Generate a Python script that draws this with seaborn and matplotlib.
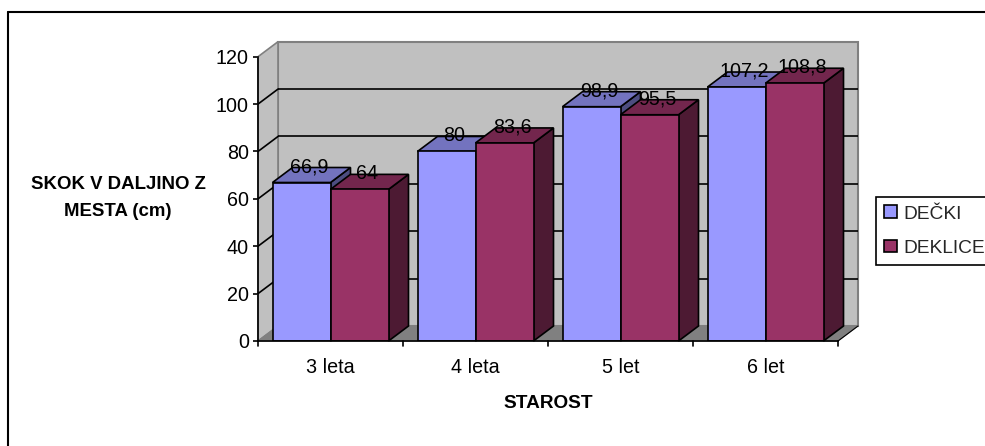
import matplotlib
matplotlib.use("Agg")
import matplotlib.pyplot as plt
from matplotlib.lines import Line2D
from matplotlib.patches import Polygon
import pandas as pd
import seaborn as sns

# Standing long jump results by age group
age_groups = ["3 leta", "4 leta", "5 let", "6 let"]
boys = [66.9, 80, 98.9, 107.2]
girls = [64, 83.6, 95.5, 108.8]
series_names = ["DEČKI", "DEKLICE"]
y_ticks = [0, 20, 40, 60, 80, 100, 120]

W, H = 985, 446
AX_L, AX_R, AX_B, AX_T = 258, 838, 341, 56.7
DEPTH_PX_X, DEPTH_PX_Y = 20, 15
TEXT_SIZE = 14.2
LEGEND_SIZE = 13.8
LINE = 1.2

FACE = {"blue": "#9999FF", "red": "#993366"}
TOP = {"blue": "#7373BF", "red": "#73264D"}
SIDE = {"blue": "#4D4D80", "red": "#4D1A33"}
WALL = "#C0C0C0"
FLOOR = "#808080"

sns.set_theme(style="white")
plt.rcParams["font.family"] = ["Liberation Sans", "DejaVu Sans"]

df = pd.DataFrame({
    "starost": age_groups * 2,
    "skok": boys + girls,
    "spol": [series_names[0]] * len(boys) + [series_names[1]] * len(girls),
})

fig = plt.figure(figsize=(W / 100, H / 100), dpi=100, facecolor="white")
ax = fig.add_axes([AX_L / W, 1 - AX_B / H, (AX_R - AX_L) / W, (AX_B - AX_T) / H])
ax.patch.set_visible(False)

sns.barplot(
    data=df, x="starost", y="skok", hue="spol", hue_order=series_names,
    palette=[FACE["blue"], FACE["red"]], saturation=1, width=0.8, gap=0,
    edgecolor="black", linewidth=LINE, err_kws={"linewidth": 0}, ax=ax,
)
ax.set_xlim(-0.5, 3.5)
ax.set_ylim(0, 120)

# Depth of the pseudo-3D box, in data units
dx = DEPTH_PX_X * 4 / (AX_R - AX_L)
dy = DEPTH_PX_Y * 120 / (AX_B - AX_T)
x0, x1 = ax.get_xlim()


def poly(points, face, edge, lw, z):
    ax.add_patch(Polygon(points, closed=True, facecolor=face, edgecolor=edge,
                         linewidth=lw, zorder=z, clip_on=False, joinstyle="miter"))


# Only real bars: seaborn also keeps empty placeholders for the legend
bar_patches = [p for p in ax.patches if p.get_height() > 0]
bar_patches.sort(key=lambda b: b.get_x())

# Box walls and floor
poly([(x0 + dx, dy), (x1 + dx, dy), (x1 + dx, 120 + dy), (x0 + dx, 120 + dy)], WALL, FLOOR, 1.5, 0.5)
poly([(x0, 0), (x0 + dx, dy), (x0 + dx, 120 + dy), (x0, 120)], WALL, FLOOR, 1.2, 0.6)
poly([(x0, 0), (x1, 0), (x1 + dx, dy), (x0 + dx, dy)], FLOOR, FLOOR, 0.8, 0.7)
ax.plot([x1, x1 + dx], [0, dy], color="black", lw=0.8, zorder=0.8, clip_on=False)

for tick in y_ticks[1:-1]:
    ax.plot([x0 + dx, x1 + dx], [tick + dy, tick + dy], color="black", lw=LINE,
            zorder=0.9, clip_on=False, solid_capstyle="butt")
    ax.plot([x0, x0 + dx], [tick, tick + dy], color="black", lw=LINE,
            zorder=0.9, clip_on=False)

# Extrude the bars, painting from left to right
for order, bar in enumerate(bar_patches):
    left, width, height = bar.get_x(), bar.get_width(), bar.get_height()
    key = "blue" if order % 2 == 0 else "red"
    z = 2 + order * 0.1
    right = left + width
    poly([(right, 0), (right + dx, dy), (right + dx, height + dy), (right, height)],
         SIDE[key], "black", LINE, z)
    poly([(left, height), (right, height), (right + dx, height + dy), (left + dx, height + dy)],
         TOP[key], "black", LINE, z + 0.01)
    bar.set_zorder(z + 0.02)
    bar.set_joinstyle("miter")
    ax.annotate(
        f"{height:g}".replace(".", ","), xy=(left + width / 2, height),
        xytext=(5.6, 11.5), textcoords="offset points", ha="center", va="center",
        fontsize=TEXT_SIZE, color="black", zorder=10, annotation_clip=False,
    )

# Axes
sns.despine(ax=ax, top=True, right=True)
for name in ("left", "bottom"):
    ax.spines[name].set_color("black")
    ax.spines[name].set_linewidth(LINE)
    ax.spines[name].set_zorder(5)
ax.set_yticks(y_ticks)
ax.tick_params(axis="y", which="major", left=True, length=3.5, width=LINE, color="black",
               labelsize=TEXT_SIZE, labelcolor="black", pad=3)
ax.tick_params(axis="x", which="major", bottom=False, labelsize=TEXT_SIZE, labelcolor="black", pad=6)
ax.set_xlabel("")
ax.set_ylabel("")

# Tick marks sit on the category boundaries
for boundary in (-0.5, 0.5, 1.5, 2.5, 3.5):
    ax.plot([boundary, boundary], [0, -2.0], color="black", lw=LINE, clip_on=False, zorder=5)

fig.text(118 / W, 1 - 198 / H, "SKOK V DALJINO Z\nMESTA (cm)", ha="center", va="center",
         fontsize=13.4, fontweight="bold", color="black", linespacing=1.8)
fig.text(548 / W, 1 - 403 / H, "STAROST", ha="center", va="center",
         fontsize=13.7, fontweight="bold", color="black")

# Legend frame runs slightly past the right edge of the canvas
handles, labels = ax.get_legend_handles_labels()
leg = ax.legend(
    handles, labels, loc="upper left", bbox_to_anchor=(876 / W, 1 - 197 / H),
    bbox_transform=fig.transFigure, frameon=True, fancybox=False, edgecolor="black",
    framealpha=1, fontsize=LEGEND_SIZE, handlelength=0.64, handleheight=0.64, handletextpad=0.34,
    borderpad=0.44, labelspacing=0.9, borderaxespad=0,
)
leg.get_frame().set_linewidth(LINE)
leg.set_zorder(20)
for handle in leg.legend_handles:
    handle.set_edgecolor("black")
    handle.set_linewidth(LINE)

# Outer chart frame: left and top sides fall inside the canvas
fig.add_artist(Line2D([8 / W, 8 / W], [0, 1 - 12 / H], color="black", lw=1.5))
fig.add_artist(Line2D([8 / W, 1], [1 - 12 / H, 1 - 12 / H], color="black", lw=1.5))

fig.savefig("out.png", dpi=100)
